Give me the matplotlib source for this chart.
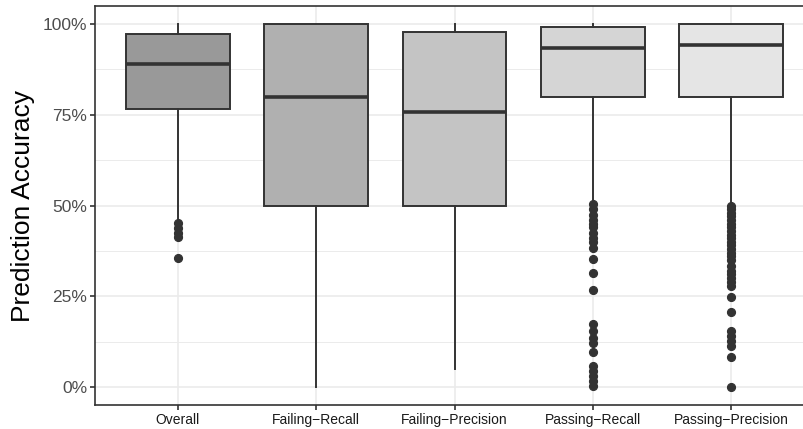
import matplotlib
matplotlib.use("Agg")
import matplotlib.pyplot as plt
from matplotlib.ticker import FixedLocator, FuncFormatter

plt.rcParams['font.family'] = ['Liberation Sans', 'DejaVu Sans']

# --- data (fractions of 1) ---
categories = ["Overall", "Failing\u2212Recall", "Failing\u2212Precision",
              "Passing\u2212Recall", "Passing\u2212Precision"]
q1 = [0.766, 0.50, 0.50, 0.799, 0.800]
medians = [0.889, 0.798, 0.757, 0.935, 0.942]
q3 = [0.973, 1.00, 0.977, 0.993, 1.00]
whisker_lo = [0.46, 0.0, 0.05, 0.51, 0.505]
whisker_hi = [1.00, 1.00, 1.00, 1.00, 1.00]
outliers_overall = [0.452, 0.439, 0.425, 0.414, 0.356]
outliers_pass_recall = [0.505, 0.49, 0.475, 0.46, 0.45, 0.44, 0.425, 0.41, 0.40,
                        0.383, 0.353, 0.315, 0.266, 0.172, 0.154, 0.135, 0.122,
                        0.095, 0.058, 0.044, 0.03, 0.016, 0.003]
outliers_pass_precision = [0.50, 0.49, 0.48, 0.47, 0.46, 0.45, 0.44, 0.43, 0.42,
                           0.41, 0.40, 0.39, 0.38, 0.37, 0.36, 0.35, 0.333, 0.32,
                           0.31, 0.30, 0.29, 0.278, 0.249, 0.206, 0.154, 0.14,
                           0.127, 0.113, 0.081, 0.001]
outliers = [outliers_overall, [], [], outliers_pass_recall, outliers_pass_precision]
fills = ["#999999", "#B0B0B0", "#C4C4C4", "#D5D5D5", "#E5E5E5"]

INK = "#333333"
GRID = "#EBEBEB"

fig = plt.figure(figsize=(8.04, 4.29), dpi=100)
# right border of the panel falls just outside the image, as in the reference
ax = fig.add_axes([95 / 804, 24 / 429, 719 / 804, 399 / 429])

stats = []
for i, name in enumerate(categories):
    stats.append(dict(label=name, q1=q1[i], med=medians[i], q3=q3[i],
                      whislo=whisker_lo[i], whishi=whisker_hi[i],
                      fliers=outliers[i]))

positions = list(range(1, len(categories) + 1))
bp = ax.bxp(stats, positions=positions, widths=0.75, patch_artist=True,
            showcaps=False, showfliers=True,
            boxprops=dict(edgecolor=INK, linewidth=1.4),
            medianprops=dict(color=INK, linewidth=2.6, solid_capstyle='butt'),
            whiskerprops=dict(color=INK, linewidth=1.4),
            flierprops=dict(marker='o', markerfacecolor=INK, markeredgecolor=INK,
                            markersize=5.6, linestyle='none'))
for patch, c in zip(bp['boxes'], fills):
    patch.set_facecolor(c)
for b in bp['boxes'] + bp['medians'] + bp['whiskers'] + bp['fliers']:
    b.set_zorder(3)

ax.set_xlim(0.4, 5.6)
ax.set_ylim(-0.05, 1.05)

ax.yaxis.set_major_locator(FixedLocator([0, 0.25, 0.5, 0.75, 1.0]))
ax.yaxis.set_minor_locator(FixedLocator([0.125, 0.375, 0.625, 0.875]))
ax.yaxis.set_major_formatter(FuncFormatter(lambda v, p: f"{v * 100:.0f}%"))
ax.set_xticks(positions)
ax.set_xticklabels(categories)

ax.grid(True, which='major', color=GRID, linewidth=1.2, zorder=0)
ax.grid(True, which='minor', axis='y', color=GRID, linewidth=0.7, zorder=0)
ax.set_axisbelow(True)

for s in ax.spines.values():
    s.set_color(INK)
    s.set_linewidth(1.2)

ax.tick_params(axis='both', which='major', length=3.5, width=1.2, color=INK)
ax.tick_params(axis='y', which='minor', length=0)
ax.tick_params(axis='y', labelsize=12.5, labelcolor='#4D4D4D', pad=2)
ax.tick_params(axis='x', labelsize=10, labelcolor='#1A1A1A', pad=2)

ax.set_ylabel("Prediction Accuracy", fontsize=19, color='black', labelpad=6)
ax.set_xlabel("")

fig.savefig("out.png", dpi=100)
